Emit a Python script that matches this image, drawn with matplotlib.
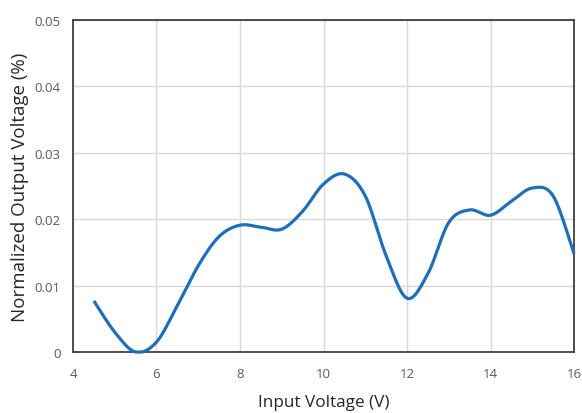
import numpy as np
import matplotlib
matplotlib.use("Agg")
import matplotlib.pyplot as plt

# Measured points (input voltage in V, normalized output in %)
input_v = [4.5, 5.0, 5.5, 6.0, 6.5, 7.0, 7.5, 8.0, 8.5, 9.0, 9.5, 10.0,
           10.5, 11.0, 11.5, 12.0, 12.5, 13.0, 13.5, 14.0, 14.5, 15.0, 15.5, 16.0]
norm_out = [0.0077, 0.0030, 0.0000, 0.0015, 0.0070, 0.0130, 0.0174, 0.0191,
            0.0188, 0.0185, 0.0212, 0.0253, 0.0268, 0.0235, 0.0145, 0.0081,
            0.0118, 0.0195, 0.0214, 0.0206, 0.0227, 0.0247, 0.0235, 0.0148]
x_ticks = [4, 6, 8, 10, 12, 14, 16]
y_ticks = [0, 0.01, 0.02, 0.03, 0.04, 0.05]
y_tick_labels = ["0", "0.01", "0.02", "0.03", "0.04", "0.05"]


def catmull_rom(xs, ys, n=30):
    # smoothed line through the points, like a spreadsheet "smooth line"
    p = np.column_stack([xs, ys])
    p = np.vstack([p[0], p, p[-1]])
    out = []
    t = np.linspace(0, 1, n, endpoint=False)[:, None]
    for i in range(1, len(p) - 2):
        p0, p1, p2, p3 = p[i - 1], p[i], p[i + 1], p[i + 2]
        seg = 0.5 * ((2 * p1) + (-p0 + p2) * t
                     + (2 * p0 - 5 * p1 + 4 * p2 - p3) * t ** 2
                     + (-p0 + 3 * p1 - 3 * p2 + p3) * t ** 3)
        out.append(seg)
    out.append(p[-2][None, :])
    c = np.vstack(out)
    return c[:, 0], c[:, 1]


plt.rcParams['font.family'] = ['Open Sans', 'DejaVu Sans']

fig = plt.figure(figsize=(5.82, 4.14), dpi=100)
ax = fig.add_axes([0.1254, 0.1473, 0.8609, 0.802])

sx, sy = catmull_rom(input_v, norm_out)
sy = np.clip(sy, 0, None)
ax.plot(sx, sy, color='#1f6fb8', linewidth=2.3, solid_capstyle='butt', clip_on=False, zorder=3)

ax.set_xlim(4, 16)
ax.set_ylim(0, 0.05)
ax.set_xticks(x_ticks)
ax.set_xticklabels([str(v) for v in x_ticks])
ax.set_yticks(y_ticks)
ax.set_yticklabels(y_tick_labels)
ax.tick_params(axis='x', length=0, labelsize=9.5, labelcolor='#595959', pad=11)
ax.tick_params(axis='y', length=0, labelsize=9.5, labelcolor='#595959', pad=9)
ax.grid(True, color='#d9d9d9', linewidth=1.0)
ax.set_axisbelow(True)
for s in ax.spines.values():
    s.set_color('#404040')
    s.set_linewidth(1.3)

ax.set_xlabel('Input Voltage (V)', fontsize=12.3, color='#262626', labelpad=10)
ax.set_ylabel('Normalized Output Voltage (%)', fontsize=13.5, color='#262626', labelpad=4)

fig.savefig('out.png', dpi=100)
